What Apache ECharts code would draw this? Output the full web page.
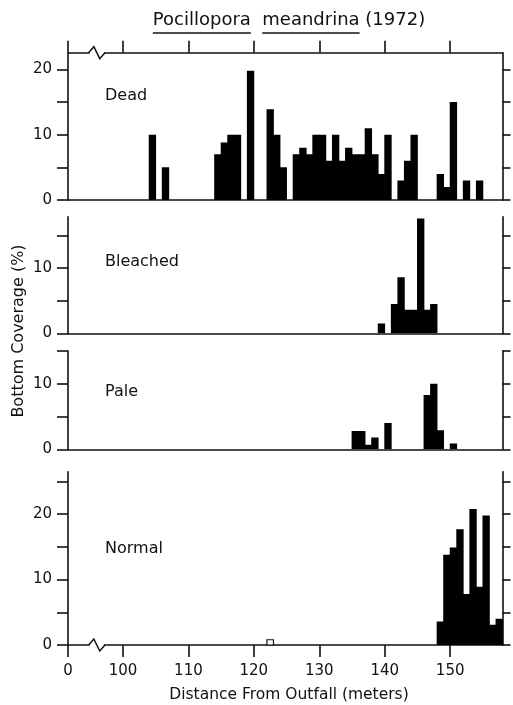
<!DOCTYPE html>
<html><head><meta charset="utf-8">
<script src="https://cdn.jsdelivr.net/npm/echarts@6/dist/echarts.min.js"></script>
<style>html,body{margin:0;padding:0;background:#fff;}#c{width:513px;height:705px;}</style>
</head><body><div id="c"></div>
<script>
// ---------- data ----------
var titleGenus = 'Pocillopora';
var titleSpecies = 'meandrina';
var titleYear = '(1972)';
var panelNames = ['Dead', 'Bleached', 'Pale', 'Normal'];
var xAxisTitle = 'Distance From Outfall (meters)';
var yAxisTitle = 'Bottom Coverage (%)';
var xTickValues = [100, 110, 120, 130, 140, 150];
var xTickLabels = ['100', '110', '120', '130', '140', '150'];
var breakTickLabel = '0';

var deadBins   = [104,106,114,115,116,117,119,122,123,124,126,127,128,129,130,131,132,133,134,135,136,137,138,139,140,142,143,144,148,149,150,152,154];
var deadValues = [10,5,7,8.8,10,10,19.8,13.9,10,5,7,8,7,10,10,6,10,6,8,7,7,11,7,4,10,3,6,10,4,2,15,3,3];

var bleachedBins   = [139,141,142,143,144,145,146,147];
var bleachedValues = [1.5,4.5,8.6,3.6,3.6,17.6,3.6,4.5];

var paleBins   = [135,136,137,138,140,146,147,148,150];
var paleValues = [2.8,2.8,0.7,1.8,4,8.3,10,2.9,0.9];

var normalBins   = [148,149,150,151,152,153,154,155,156,157];
var normalValues = [3.6,13.8,14.9,17.7,7.8,20.8,8.9,19.8,3.1,4.0];
var normalOpenBins   = [122];
var normalOpenValues = [0.8];

var yTickValues  = [[0,5,10,15,20],[0,5,10,15],[0,5,10,15],[0,5,10,15,20,25]];
var yLabelValues = [[0,10,20],[0,10],[0,10],[0,10,20]];

// ---------- layout ----------
var FONT = 'DejaVu Sans';
var INK = '#111';
var BAR = '#000';
var xMin = 91.6, xMax = 158;
var gridLeft = 68, gridRight = 10.5;
var gridTops = [52.7, 216.7, 351, 471.7];
var gridHeights = [147.3, 116.6, 98.3, 173.3];
var yMaxes = [22.56, 17.86, 15, 26.5];

function pairs(b, v) { return b.map(function (x, i) { return [x, v[i]]; }); }
var panelData = [pairs(deadBins, deadValues), pairs(bleachedBins, bleachedValues),
                 pairs(paleBins, paleValues), pairs(normalBins, normalValues)];

function makeRender(open) {
  return function (params, api) {
    var x0 = api.value(0), v = api.value(1);
    var p0 = api.coord([x0, v]);
    var p1 = api.coord([x0 + 1, 0]);
    var w = p1[0] - p0[0];
    return {
      type: 'rect',
      shape: { x: p0[0] - (open ? 0 : 0.4), y: p0[1], width: w + (open ? 0 : 0.8), height: p1[1] - p0[1] },
      style: open ? { fill: '#fff', stroke: INK, lineWidth: 1.2 } : { fill: BAR }
    };
  };
}

var grids = [], xAxes = [], yAxes = [], series = [];
var lineStyle = { color: INK, width: 1.6 };
var xTickAll = [xMin].concat(xTickValues);
for (var i = 0; i < 4; i++) {
  grids.push({ left: gridLeft, right: gridRight, top: gridTops[i], height: gridHeights[i] });
  var last = (i === 3);
  xAxes.push({
    type: 'value', gridIndex: i, min: xMin, max: xMax, position: 'bottom',
    axisLine: { show: true, onZero: false, lineStyle: lineStyle },
    splitLine: { show: false },
    axisTick: { show: last, length: 12, lineStyle: lineStyle, customValues: xTickAll },
    axisLabel: {
      show: last, margin: 19, color: INK, fontFamily: FONT, fontSize: 15,
      customValues: xTickAll,
      formatter: function (v) {
        if (v < 95) return breakTickLabel;
        var k = xTickValues.indexOf(Math.round(v));
        return k >= 0 ? xTickLabels[k] : '';
      }
    }
  });
  yAxes.push({
    type: 'value', gridIndex: i, min: 0, max: yMaxes[i], position: 'left',
    axisLine: { show: true, onZero: false, lineStyle: lineStyle },
    splitLine: { show: false },
    axisTick: { show: true, length: 11, lineStyle: lineStyle, customValues: yTickValues[i] },
    axisLabel: { show: true, margin: 16, color: INK, fontFamily: FONT, fontSize: 15,
                 customValues: yLabelValues[i] }
  });
  yAxes.push({
    type: 'value', gridIndex: i, min: 0, max: yMaxes[i], position: 'right',
    axisLine: { show: true, onZero: false, lineStyle: lineStyle },
    splitLine: { show: false },
    axisTick: { show: true, length: 8, lineStyle: lineStyle, customValues: yTickValues[i] },
    axisLabel: { show: false }
  });
  series.push({
    type: 'custom', name: panelNames[i], xAxisIndex: i, yAxisIndex: 2 * i,
    renderItem: makeRender(false), encode: { x: 0, y: 1 }, data: panelData[i], clip: true
  });
}
// top axis of the Dead panel
xAxes.push({
  type: 'value', gridIndex: 0, min: xMin, max: xMax, position: 'top',
  axisLine: { show: true, onZero: false, lineStyle: lineStyle },
  splitLine: { show: false },
  axisTick: { show: true, length: 12, lineStyle: lineStyle, customValues: xTickAll },
  axisLabel: { show: false }
});
series.push({
  type: 'custom', name: 'Normal (open)', xAxisIndex: 3, yAxisIndex: 6,
  renderItem: makeRender(true), encode: { x: 0, y: 1 },
  data: pairs(normalOpenBins, normalOpenValues)
});

var panelLabelTops = [97, 263, 393, 550];
var graphics = [];
panelNames.forEach(function (n, i) {
  graphics.push({ type: 'text', left: 105, top: panelLabelTops[i] - 9, z: 100,
    style: { text: n, fill: INK, font: '16px "' + FONT + '"' } });
});
graphics.push({ type: 'text', x: 289, y: 695, z: 100,
  style: { text: xAxisTitle, fill: INK, font: '15.5px "' + FONT + '"', align: 'center', verticalAlign: 'middle' } });
graphics.push({ type: 'text', x: 19, y: 331, rotation: Math.PI / 2, z: 100,
  style: { text: yAxisTitle, fill: INK, font: '16px "' + FONT + '"', align: 'center', verticalAlign: 'middle' } });

var chart = echarts.init(document.getElementById('c'), null, { renderer: 'canvas' });
chart.setOption({
  animation: false, backgroundColor: '#fff',
  grid: grids, xAxis: xAxes, yAxis: yAxes, series: series, graphic: graphics
});

// title with underlined genus/species
var titleFont = '18px "' + FONT + '"';
var ctx = document.createElement('canvas').getContext('2d');
ctx.font = titleFont;
var full = titleGenus + '  ' + titleSpecies + ' ' + titleYear;
var W = ctx.measureText(full).width;
var tCx = 289, tCy = 20, tLeft = tCx - W / 2;
var wG = ctx.measureText(titleGenus).width;
var wGs = ctx.measureText(titleGenus + '  ').width;
var wGsS = ctx.measureText(titleGenus + '  ' + titleSpecies).width;
graphics.push({ type: 'text', x: tCx, y: tCy, z: 100,
  style: { text: full, fill: INK, font: titleFont, align: 'center', verticalAlign: 'middle' } });
graphics.push({ type: 'line', z: 100, shape: { x1: tLeft, y1: 33, x2: tLeft + wG, y2: 33 }, style: { stroke: INK, lineWidth: 1.3 } });
graphics.push({ type: 'line', z: 100, shape: { x1: tLeft + wGs, y1: 33, x2: tLeft + wGsS, y2: 33 }, style: { stroke: INK, lineWidth: 1.3 } });

// axis break zigzags (top of Dead panel, bottom of Normal panel)
function zig(gridIdx, yVal) {
  var a = chart.convertToPixel({ gridIndex: gridIdx }, [94.9, yVal]);
  var b = chart.convertToPixel({ gridIndex: gridIdx }, [95.55, yVal]);
  var c = chart.convertToPixel({ gridIndex: gridIdx }, [96.45, yVal]);
  var d = chart.convertToPixel({ gridIndex: gridIdx }, [97.1, yVal]);
  var y0 = a[1];
  graphics.push({ type: 'rect', z: 110, shape: { x: a[0], y: y0 - 2, width: d[0] - a[0], height: 4 }, style: { fill: '#fff' } });
  graphics.push({ type: 'polyline', z: 111,
    shape: { points: [[a[0] - 1, y0], [b[0], y0 - 6], [c[0], y0 + 6], [d[0] + 1, y0]] },
    style: { stroke: INK, lineWidth: 1.5, fill: null } });
}
zig(0, yMaxes[0]);
zig(3, 0);
chart.setOption({ graphic: graphics }, { replaceMerge: ['graphic'] });
</script></body></html>
